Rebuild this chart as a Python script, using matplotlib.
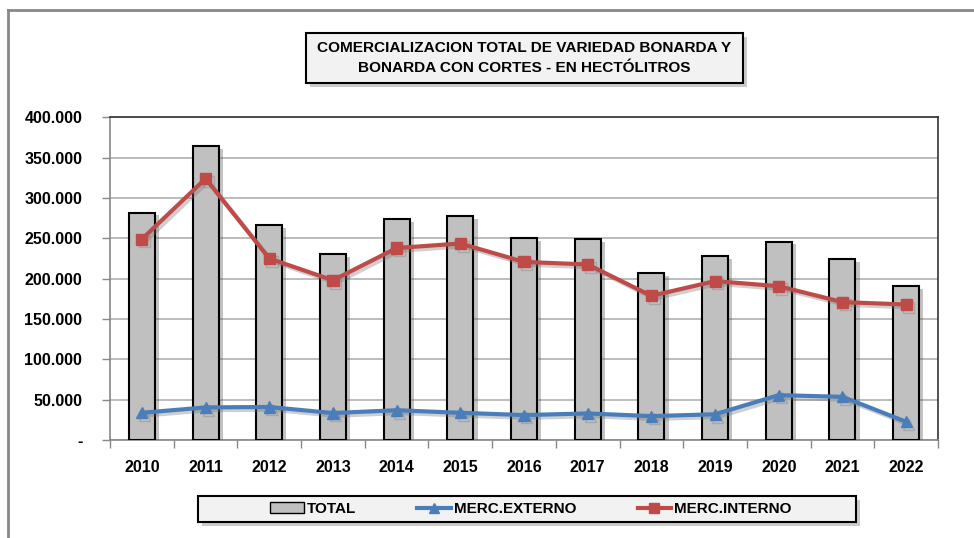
import matplotlib.pyplot as plt
import matplotlib.patheffects as pe
from matplotlib.lines import Line2D
from matplotlib.patches import Rectangle
from matplotlib.ticker import FuncFormatter, FixedLocator
import numpy as np

plt.rcParams['font.family'] = ['Liberation Sans', 'DejaVu Sans']

years = ['2010', '2011', '2012', '2013', '2014', '2015', '2016',
         '2017', '2018', '2019', '2020', '2021', '2022']
total = [282000, 364000, 266000, 230000, 274000, 278000, 250000,
         249000, 207000, 228000, 246000, 224000, 191000]
externo = [33800, 40500, 41000, 33500, 37000, 33800, 31000,
           33000, 29700, 32000, 55700, 53600, 22700]
interno = [249000, 324000, 225000, 198000, 238000, 243600, 220800,
           217600, 178700, 197000, 190700, 171000, 168000]

blue = '#4a7ebb'
red = '#be4b48'

fig = plt.figure(figsize=(9.74, 5.38), dpi=100)
ax = fig.add_axes([0.113, 0.182, 0.850, 0.600])

x = np.arange(len(years))
ax.bar(x, total, width=0.41, color='#c0c0c0', edgecolor='black', linewidth=1.5, zorder=3,
       path_effects=[pe.SimplePatchShadow(offset=(3, -2), shadow_rgbFace='#555555', alpha=0.35),
                     pe.Normal()])
ax.plot(x, externo, color=blue, linewidth=3, marker='^', markersize=8, zorder=4,
        path_effects=[pe.SimpleLineShadow(offset=(2, -2), shadow_color='#777777', alpha=0.35),
                      pe.Normal()])
ax.plot(x, interno, color=red, linewidth=3, marker='s', markersize=8, zorder=5,
        path_effects=[pe.SimpleLineShadow(offset=(2, -2), shadow_color='#777777', alpha=0.35),
                      pe.Normal()])

ax.set_xlim(-0.5, len(years) - 0.5)
ax.set_ylim(0, 400000)
ax.set_yticks(np.arange(0, 400001, 50000))
ax.yaxis.set_major_formatter(FuncFormatter(
    lambda v, p: '-' if v == 0 else f'{int(v):,}'.replace(',', '.')))
ax.grid(axis='y', color='#b0b0b0', linewidth=1.2, zorder=0)
ax.set_axisbelow(True)

ax.set_xticks(x)
ax.set_xticklabels(years)
ax.xaxis.set_minor_locator(FixedLocator(np.arange(-0.5, len(years), 1)))
ax.tick_params(axis='x', which='major', length=0, pad=14)
ax.tick_params(axis='x', which='minor', length=6, color='#888888', width=1)
ax.tick_params(axis='y', length=6, color='#888888', width=1, pad=14)
for lab in ax.get_xticklabels() + ax.get_yticklabels():
    lab.set_fontsize(11.5)
    lab.set_fontweight('bold')

ax.spines['left'].set_color('#888888')
ax.spines['bottom'].set_color('#888888')
ax.spines['top'].set_color('#333333')
ax.spines['right'].set_color('#333333')
for s in ax.spines.values():
    s.set_linewidth(1.2)

# outer frame (top and left only)
fig.add_artist(Line2D([8 / 974, 973 / 974], [1 - 10 / 538, 1 - 10 / 538], color='#888888', linewidth=2))
fig.add_artist(Line2D([8 / 974, 8 / 974], [0, 1 - 10 / 538], color='#888888', linewidth=2))


def shadow_box(x0, y0, x1, y1):
    W, H = 974, 538
    fig.add_artist(Rectangle((x0 / W + 0.004, 1 - y1 / H - 0.008), (x1 - x0) / W, (y1 - y0) / H,
                             transform=fig.transFigure, facecolor='#999999', alpha=0.5,
                             edgecolor='none', zorder=1))
    fig.add_artist(Rectangle((x0 / W, 1 - y1 / H), (x1 - x0) / W, (y1 - y0) / H,
                             transform=fig.transFigure, facecolor='#f2f2f2',
                             edgecolor='black', linewidth=1.5, zorder=2))


# title box
shadow_box(306, 33, 743, 83)
fig.text(524 / 974, 1 - 58 / 538,
         'COMERCIALIZACION TOTAL DE VARIEDAD BONARDA Y\nBONARDA CON CORTES - EN HECTÓLITROS',
         ha='center', va='center', fontsize=11.1, fontweight='bold', linespacing=1.6, zorder=3)

# legend box
shadow_box(198, 496, 856, 522)
handles = [
    Rectangle((0, 0), 1, 1, facecolor='#c0c0c0', edgecolor='black', linewidth=1),
    Line2D([], [], color=blue, linewidth=3, marker='^', markersize=7),
    Line2D([], [], color=red, linewidth=3, marker='s', markersize=7),
]
leg = fig.legend(handles, ['TOTAL', 'MERC.EXTERNO', 'MERC.INTERNO'],
                 loc='center', bbox_to_anchor=(531 / 974, 1 - 509 / 538), ncol=3,
                 frameon=False, prop={'weight': 'bold', 'size': 11},
                 columnspacing=4, handlelength=2.2, handletextpad=0.2)
leg.set_zorder(3)

fig.savefig('out.png', dpi=100)
